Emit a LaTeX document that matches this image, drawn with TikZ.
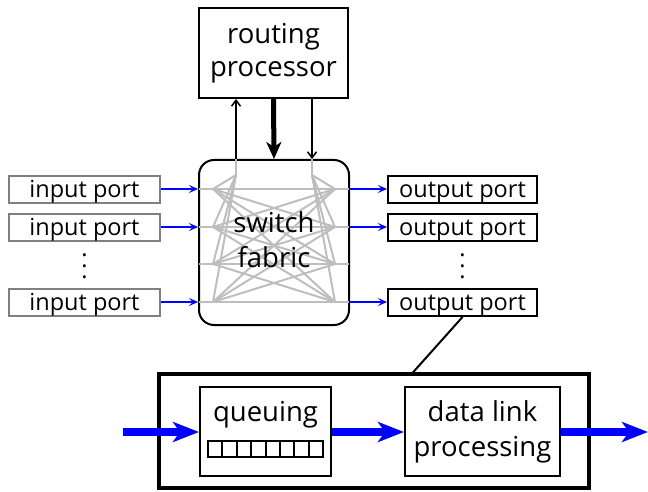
\documentclass[tikz,border=0pt]{standalone}
\usepackage{fontspec}
\setmainfont{Open Sans}
\usetikzlibrary{arrows.meta}
\definecolor{pblue}{RGB}{0,0,255}
\definecolor{portgray}{RGB}{128,128,128}
\definecolor{wiregray}{RGB}{190,190,190}
\begin{document}
\begin{tikzpicture}[x=1pt,y=-1pt,
  bigfont/.style={font=\fontsize{27.5}{35}\selectfont},
  portfont/.style={font=\fontsize{23.5}{26}\selectfont, text height=21pt, text depth=5pt},
  inport/.style={draw=portgray, line width=2pt, minimum width=151pt, minimum height=27pt, inner sep=0pt, portfont},
  outport/.style={draw=black, line width=2pt, minimum width=149pt, minimum height=27pt, inner sep=0pt, portfont},
  blackbox/.style={draw=black, line width=2pt, inner sep=0pt, align=center, bigfont},
  wire/.style={draw=wiregray, line width=2pt},
  thinblue/.style={draw=pblue, line width=1.6pt, -{Stealth[length=9pt,width=8pt,inset=4pt]}},
  thickblue/.style={draw=pblue, line width=8pt, -{Stealth[length=26pt,width=20pt,inset=7pt]}},
  ctrl/.style={draw=black, line width=1.8pt, -{Straight Barb[length=6pt,width=9pt,line width=1.5pt]}},
  ctrlthick/.style={draw=black, line width=5pt, -{Stealth[length=17pt,width=15pt,inset=5pt]}},
  dotstyle/.style={font=\fontsize{23.5}{11}\selectfont, align=center, inner sep=0pt}
]
\useasboundingbox (0,0) rectangle (648,492);

% routing processor
\node[blackbox, minimum width=149pt, minimum height=90pt] (rp) at (273.5,53) {routing\\[-2pt]processor};

% switch fabric box
\node[draw=black, line width=2pt, rounded corners=15pt, minimum width=150pt, minimum height=165pt, inner sep=0pt] (fab) at (274,242.5) {};

% wire hubs
\coordinate (TL) at (236,175);
\coordinate (TR) at (312,175);
\foreach \i/\y in {1/189,2/227,3/264,4/302}{
  \coordinate (L\i) at (213,\y);
  \coordinate (R\i) at (335,\y);
  \coordinate (LE\i) at (199,\y);
  \coordinate (RE\i) at (349,\y);
}
\foreach \i in {1,2,3,4}{
  \draw[wire] (LE\i) -- (L\i);
  \draw[wire] (R\i) -- (RE\i);
  \draw[wire] (TL) -- (L\i);
  \draw[wire] (TR) -- (R\i);
  \foreach \j in {1,2,3,4}{
    \draw[wire] (L\i) -- (R\j);
  }
}
\draw[wire] (TL |- fab.north) -- (TL);
\draw[wire] (TR |- fab.north) -- (TR);
\node[bigfont, align=center, inner sep=0pt] (fabtext) at (274,239.5) {switch\\fabric};

% control arrows
\draw[ctrl] (TL |- fab.north) -- (TL |- rp.south);
\draw[ctrlthick] (rp.south) -- (fab.north);
\draw[ctrl] (TR |- rp.south) -- (TR |- fab.north);

% input ports
\node[inport] (ip1) at (84.5,189.5) {input port};
\node[inport] (ip2) at (84.5,227.5) {input port};
\node[inport] (ip3) at (84.5,302.5) {input port};
\node[dotstyle] (idots) at (84.5,266) {.\\.\\.};

% output ports
\node[outport] (op1) at (462.5,189.5) {output port};
\node[outport] (op2) at (462.5,227.5) {output port};
\node[outport] (op3) at (462.5,302.5) {output port};
\node[dotstyle] (odots) at (462.5,266) {.\\.\\.};

% blue port arrows
\draw[thinblue] (ip1.east |- LE1) -- (LE1 -| fab.west);
\draw[thinblue] (ip2.east |- LE2) -- (LE2 -| fab.west);
\draw[thinblue] (ip3.east |- LE4) -- (LE4 -| fab.west);
\draw[thinblue] (RE1 -| fab.east) -- (op1.west |- RE1);
\draw[thinblue] (RE2 -| fab.east) -- (op2.west |- RE2);
\draw[thinblue] (RE4 -| fab.east) -- (op3.west |- RE4);

% zoomed output port
\node[draw=black, line width=4pt, minimum width=430pt, minimum height=114pt, inner sep=0pt] (big) at (374,430.5) {};
\coordinate (bigtop) at (412,373.5);
\draw[black, line width=2pt] (op3.south) -- (bigtop);

\node[draw=black, line width=2pt, minimum width=131pt, minimum height=89pt, inner sep=0pt] (queue) at (265.5,431.5) {};
\node[bigfont, inner sep=0pt, anchor=base] (qtext) at (265.5,421.5) {queuing};
\foreach \k in {0,...,7}{
  \draw[black, line width=2pt] (208+\k*14.375,441) rectangle (208+\k*14.375+14.375,457);
}
\node[blackbox, minimum width=155pt, minimum height=89pt] (dl) at (482.5,431.5) {data link\\processing};

\coordinate (inarrow) at (123,432);
\coordinate (outarrow) at (648,432);
\draw[thickblue] (inarrow) -- (queue.west |- inarrow);
\draw[thickblue] (queue.east |- inarrow) -- (dl.west |- inarrow);
\draw[thickblue] (dl.east |- inarrow) -- (outarrow);
\end{tikzpicture}
\end{document}
